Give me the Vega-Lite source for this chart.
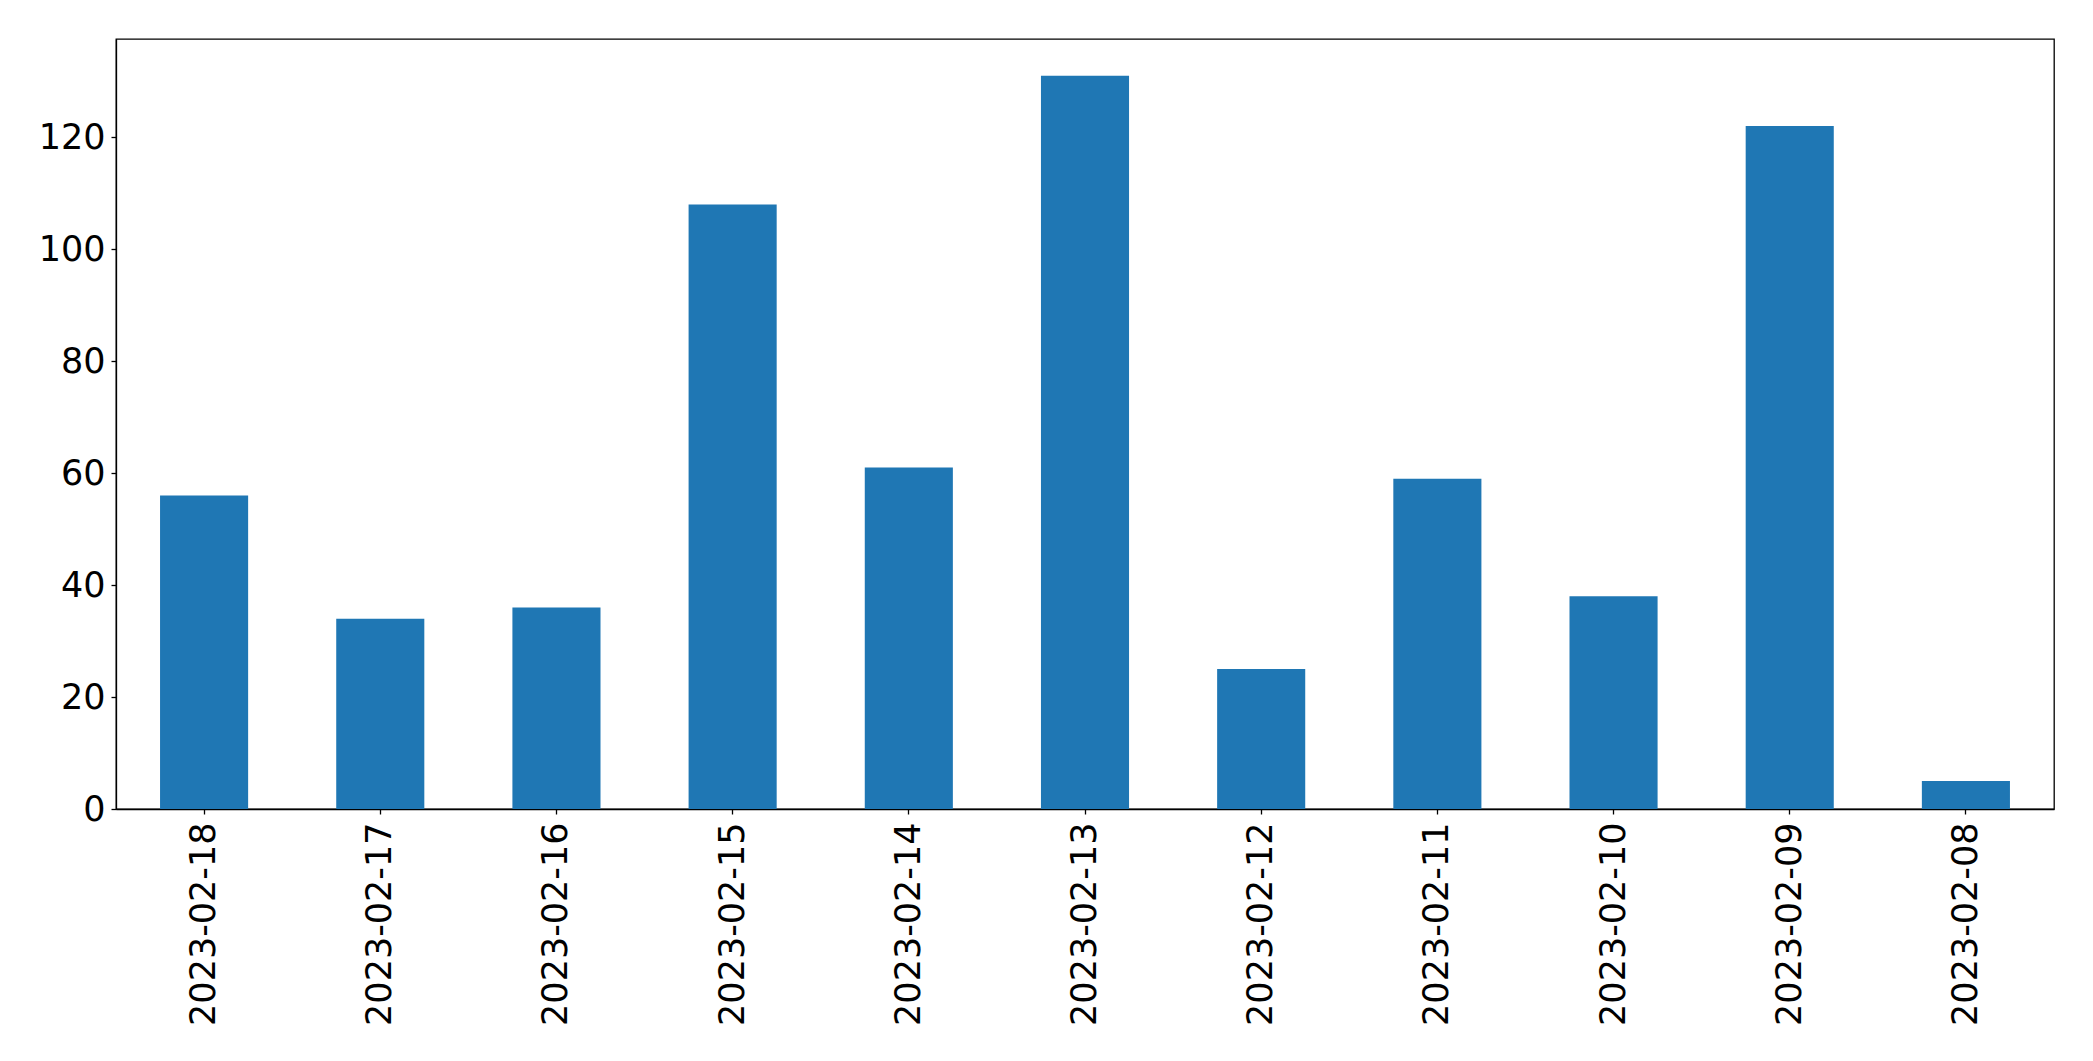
{
  "$schema": "https://vega.github.io/schema/vega-lite/v6.json",
  "autosize": {"type": "none"},
  "padding": {"left": 116, "top": 39, "right": 39, "bottom": 252},
  "width": 1938,
  "height": 770,
  "background": "white",
  "data": {
    "values": [
      {"date": "2023-02-18", "count": 56},
      {"date": "2023-02-17", "count": 34},
      {"date": "2023-02-16", "count": 36},
      {"date": "2023-02-15", "count": 108},
      {"date": "2023-02-14", "count": 61},
      {"date": "2023-02-13", "count": 131},
      {"date": "2023-02-12", "count": 25},
      {"date": "2023-02-11", "count": 59},
      {"date": "2023-02-10", "count": 38},
      {"date": "2023-02-09", "count": 122},
      {"date": "2023-02-08", "count": 5}
    ]
  },
  "mark": {"type": "bar", "color": "#1f77b4"},
  "encoding": {
    "x": {
      "field": "date",
      "type": "nominal",
      "sort": null,
      "scale": {"paddingInner": 0.5, "paddingOuter": 0.25},
      "axis": {"title": null, "labelAngle": 270, "labelPadding": 8, "labelLimit": 0}
    },
    "y": {
      "field": "count",
      "type": "quantitative",
      "scale": {"domain": [0, 137.55], "nice": false, "zero": true},
      "axis": {"title": null, "grid": false, "values": [0, 20, 40, 60, 80, 100, 120], "labelPadding": 6}
    }
  },
  "config": {
    "view": {"stroke": "#000000", "strokeWidth": 1.3},
    "axis": {
      "labelFont": "DejaVu Sans",
      "labelFontSize": 35,
      "labelColor": "#000000",
      "domainColor": "#000000",
      "domainWidth": 1.3,
      "tickColor": "#000000",
      "tickSize": 5,
      "tickWidth": 1.3
    }
  }
}
